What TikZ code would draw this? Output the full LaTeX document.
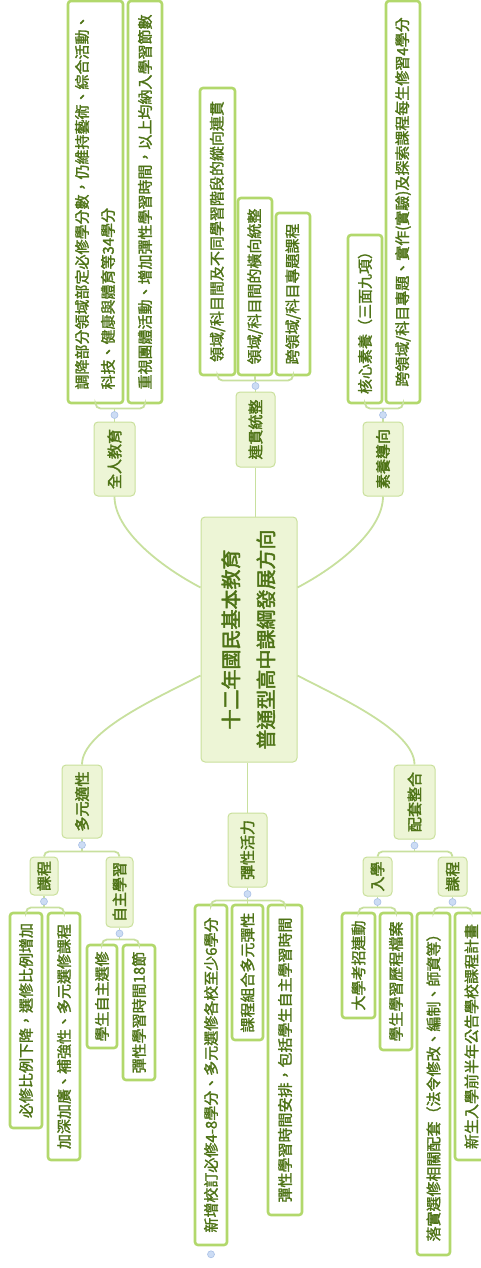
\documentclass[tikz,border=0pt]{standalone}
\usepackage{fontspec}
\usepackage{graphicx}
\usetikzlibrary{calc}
\newfontfamily\cjk{Noto Sans CJK TC}[FakeBold=1.6]
\newfontfamily\cjkb{Noto Sans CJK TC}[FakeBold=2.2]
\definecolor{txt}{HTML}{4E7316}
\definecolor{leafc}{HTML}{B2D86C}
\definecolor{topf}{HTML}{EDF5D6}
\definecolor{topb}{HTML}{C9E09B}
\definecolor{connc}{HTML}{C8E09E}
\definecolor{knobf}{HTML}{CCDCF4}
\definecolor{knobd}{HTML}{A9C0E6}
\newcommand\mkbox[7]{\node[#2, minimum width={#4-#3}, minimum height={#6-#5}] (#1) at ({(#3+#4)/2},{(#5+#6)/2}) {\rotatebox{90}{#7}};}
\newcommand\twol[2]{\begin{tabular}{@{}l@{}}#1\\#2\end{tabular}}
\newcommand\twoc[2]{\begin{tabular}{@{}c@{}}#1\\#2\end{tabular}}
\tikzset{
  leaf/.style={draw=leafc, line width=2.6pt, fill=white, rounded corners=3pt, inner sep=0pt, text=txt, font=\cjk\fontsize{15}{26}\selectfont},
  topic/.style={draw=topb, line width=1pt, fill=topf, rounded corners=4pt, inner sep=0pt, text=txt, font=\cjkb\fontsize{15}{26}\selectfont},
  central/.style={topic, font=\cjkb\fontsize{20}{35}\selectfont},
  conn/.style={draw=connc, line width=1.8pt},
  knob/.style={circle, fill=knobf, draw=knobd, line width=0.6pt, minimum size=7pt, inner sep=0pt}
}
\begin{document}
\begin{tikzpicture}[x=1pt,y=-1pt]
\useasboundingbox (0,0) rectangle (481,1268);
% central and topics
\mkbox{C}{central}{201}{297}{517}{762}{\twoc{十二年國民基本教育}{普通型高中課綱發展方向}}
\mkbox{M1}{topic}{94}{135}{422}{496}{全人教育}
\mkbox{M2}{topic}{236}{275}{392}{467}{連貫統整}
\mkbox{M3}{topic}{363}{403}{422}{496}{素養導向}
\mkbox{M4}{topic}{62}{102}{765}{838}{多元適性}
\mkbox{M5}{topic}{228}{267}{813}{887}{彈性活力}
\mkbox{M6}{topic}{394}{435}{765}{839}{配套整合}
\mkbox{S1}{topic}{30}{58}{857}{895}{課程}
\mkbox{S2}{topic}{106}{133}{857}{927}{自主學習}
\mkbox{S3}{topic}{363}{392}{857}{896}{入學}
\mkbox{S4}{topic}{438}{467}{857}{896}{課程}
% leaves top
\mkbox{L1}{leaf}{68}{123}{1}{403}{\twol{調降部分領域部定必修學分數，仍維持藝術、綜合活動、}{科技、健康與體育等34學分}}
\mkbox{L2}{leaf}{128}{162}{1}{403}{重視團體活動、增加彈性學習時間，以上均納入學習節數}
\mkbox{L3}{leaf}{200}{235}{88}{375}{領域/科目間及不同學習階段的縱向連貫}
\mkbox{L4}{leaf}{238}{272}{198}{375}{領域/科目間的橫向統整}
\mkbox{L5}{leaf}{276}{310}{213}{375}{跨領域/科目專題課程}
\mkbox{L6}{leaf}{348}{382}{235}{403}{核心素養（三面九項）}
\mkbox{L7}{leaf}{386}{420}{1}{403}{跨領域/科目專題、實作(實驗)及探索課程每生修習4學分}
% leaves bottom
\mkbox{L8}{leaf}{10}{42}{913}{1128}{必修比例下降，選修比例增加}
\mkbox{L9}{leaf}{48}{80}{913}{1160}{加深加廣、補強性、多元選修課程}
\mkbox{L10}{leaf}{87}{117}{945}{1048}{學生自主選修}
\mkbox{L11}{leaf}{123}{155}{945}{1080}{彈性學習時間18節}
\mkbox{L12}{leaf}{195}{227}{905}{1245}{新增校訂必修4-8學分、多元選修各校至少6學分}
\mkbox{L13}{leaf}{232}{263}{905}{1040}{課程組合多元彈性}
\mkbox{L14}{leaf}{268}{302}{905}{1215}{彈性學習時間安排，包括學生自主學習時間}
\mkbox{L15}{leaf}{342}{375}{913}{1018}{大學考招連動}
\mkbox{L16}{leaf}{380}{412}{913}{1050}{學生學習歷程檔案}
\mkbox{L17}{leaf}{417}{450}{913}{1255}{落實選修相關配套（法令修改、編制、師資等）}
\mkbox{L18}{leaf}{455}{488}{913}{1160}{新生入學前半年公告學校課程計畫}
% main connectors
\draw[conn] ($(C.north west)+(0,71)$) .. controls +(-40,-21) and +(0,34) .. (M1.south);
\draw[conn] ($(C.north east)+(0,71)$) .. controls +(40,-21) and +(0,34) .. (M3.south);
\draw[conn] ($(C.south west)+(0,-87)$) .. controls +(-40,21) and +(0,-34) .. (M4.north);
\draw[conn] ($(C.south east)+(0,-87)$) .. controls +(40,21) and +(0,-34) .. (M6.north);
\draw[conn] (M2.south) -- (M2.south |- C.north);
\draw[conn] (M5.north) -- (M5.north |- C.south);
% bars
\coordinate (b1) at ($(M1.north)+(0,-13)$);
\coordinate (b2) at ($(M2.north)+(0,-11)$);
\coordinate (b3) at ($(M3.north)+(0,-13)$);
\coordinate (b4) at ($(M4.south)+(0,13)$);
\coordinate (b5) at ($(M5.south)+(0,13)$);
\coordinate (b6) at ($(M6.south)+(0,12)$);
\coordinate (c1) at ($(S1.south)+(0,12)$);
\coordinate (c2) at ($(S2.south)+(0,12)$);
\coordinate (c3) at ($(S3.south)+(0,11)$);
\coordinate (c4) at ($(S4.south)+(0,11)$);
\begin{scope}[conn, rounded corners=5pt]
\draw (L1.south) |- (b1) -| (L2.south);
\draw (L3.south) |- (b2) -| (L5.south);
\draw (L6.south) |- (b3) -| (L7.south);
\draw (S1.north) |- (b4) -| (S2.north);
\draw (L12.north) |- (b5) -| (L14.north);
\draw (S3.north) |- (b6) -| (S4.north);
\draw (L8.north) |- (c1) -| (L9.north);
\draw (L10.north) |- (c2) -| (L11.north);
\draw (L15.north) |- (c3) -| (L16.north);
\draw (L17.north) |- (c4) -| (L18.north);
\end{scope}
\draw[conn] (L4.south) -- (L4.south |- b2);
\draw[conn] (L13.north) -- (L13.north |- b5);
\draw[conn] (b1) -- (M1.north);
\draw[conn] (b2) -- (M2.north);
\draw[conn] (b3) -- (M3.north);
\draw[conn] (b4) -- (M4.south);
\draw[conn] (b5) -- (M5.south);
\draw[conn] (b6) -- (M6.south);
\draw[conn] (c1) -- (S1.south);
\draw[conn] (c2) -- (S2.south);
\draw[conn] (c3) -- (S3.south);
\draw[conn] (c4) -- (S4.south);
% knobs
\node[knob] (k1) at ($(b1)!0.5!(M1.north)$) {};
\node[knob] (k2) at ($(b2)!0.5!(M2.north)$) {};
\node[knob] (k3) at ($(b3)!0.5!(M3.north)$) {};
\node[knob] (k4) at ($(b4)!0.5!(M4.south)$) {};
\node[knob] (k5) at ($(b5)!0.5!(M5.south)$) {};
\node[knob] (k6) at ($(b6)!0.5!(M6.south)$) {};
\node[knob] (k7) at ($(c1)!0.5!(S1.south)$) {};
\node[knob] (k8) at ($(c2)!0.5!(S2.south)$) {};
\node[knob] (k9) at ($(c3)!0.5!(S3.south)$) {};
\node[knob] (k10) at ($(c4)!0.5!(S4.south)$) {};
\node[knob] (k11) at ($(L12.south)+(0,8)$) {};
\end{tikzpicture}
\end{document}
